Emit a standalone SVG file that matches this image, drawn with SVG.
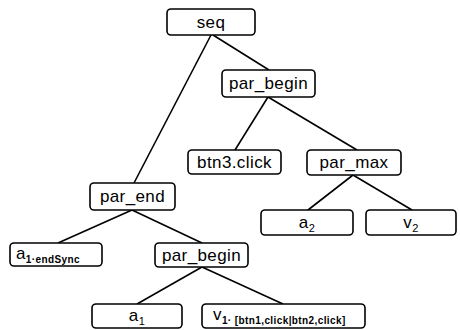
<svg xmlns="http://www.w3.org/2000/svg" width="460" height="330" viewBox="0 0 460 330">
  <style>
    .box { fill: #ffffff; stroke: #000000; stroke-width: 1.6; }
    .lbl { font-family: "Liberation Sans", Arial, sans-serif; font-size: 17px; fill: #000000; letter-spacing: 0.4px; }
    .sub { font-size: 11px; }
    .subb { font-size: 10px; font-weight: bold; }
    .edge { stroke: #000000; stroke-width: 1.6; fill: none; }
  </style>
  <rect width="460" height="330" fill="#ffffff"/>

  <!-- tree edges -->
  <g id="connectors">
    <line class="edge" x1="211" y1="35" x2="134" y2="183"/>
    <line class="edge" x1="213" y1="35" x2="269" y2="70"/>
    <line class="edge" x1="268" y1="97" x2="235" y2="150"/>
    <line class="edge" x1="268" y1="97" x2="357" y2="150"/>
    <line class="edge" x1="353" y1="175" x2="308" y2="210"/>
    <line class="edge" x1="353" y1="175" x2="412" y2="210"/>
    <line class="edge" x1="132" y1="210" x2="58" y2="243"/>
    <line class="edge" x1="132" y1="210" x2="202" y2="243"/>
    <line class="edge" x1="202" y1="267" x2="137" y2="304"/>
    <line class="edge" x1="202" y1="267" x2="283" y2="304"/>
  </g>

  <g id="seq">
    <rect class="box" x="167" y="9" width="88" height="26" rx="4"/>
    <text class="lbl" x="211" y="28" text-anchor="middle">seq</text>
  </g>

  <g id="par_begin_top">
    <rect class="box" x="222" y="70" width="93" height="27" rx="4"/>
    <text class="lbl" x="268.5" y="89" text-anchor="middle">par_begin</text>
  </g>

  <g id="btn3_click">
    <rect class="box" x="188" y="150" width="93" height="24" rx="4"/>
    <text class="lbl" x="234.5" y="168" text-anchor="middle">btn3.click</text>
  </g>

  <g id="par_max">
    <rect class="box" x="307" y="150" width="94" height="25" rx="4"/>
    <text class="lbl" x="354" y="168" text-anchor="middle">par_max</text>
  </g>

  <g id="a2">
    <rect class="box" x="261" y="210" width="92" height="25" rx="4"/>
    <text class="lbl" x="307" y="228" text-anchor="middle">a<tspan class="sub" dy="4">2</tspan></text>
  </g>

  <g id="v2">
    <rect class="box" x="366" y="210" width="90" height="25" rx="4"/>
    <text class="lbl" x="411" y="228" text-anchor="middle">v<tspan class="sub" dy="4">2</tspan></text>
  </g>

  <g id="par_end">
    <rect class="box" x="90" y="183" width="85" height="27" rx="4"/>
    <text class="lbl" x="132.5" y="202" text-anchor="middle">par_end</text>
  </g>

  <g id="a1_endSync">
    <rect class="box" x="10" y="243" width="92" height="23" rx="4"/>
    <text class="lbl" x="16" y="259">a<tspan class="subb" dy="4">1·endSync</tspan></text>
  </g>

  <g id="par_begin_low">
    <rect class="box" x="155" y="243" width="93" height="24" rx="4"/>
    <text class="lbl" x="201.5" y="261" text-anchor="middle">par_begin</text>
  </g>

  <g id="a1">
    <rect class="box" x="92" y="304" width="90" height="24" rx="4"/>
    <text class="lbl" x="137" y="321" text-anchor="middle">a<tspan class="sub" dy="4">1</tspan></text>
  </g>

  <g id="v1">
    <rect class="box" x="202" y="304" width="163" height="24" rx="4"/>
    <text class="lbl" x="213" y="320">v<tspan class="subb" dy="4">1· [btn1,click|btn2,click]</tspan></text>
  </g>
</svg>
